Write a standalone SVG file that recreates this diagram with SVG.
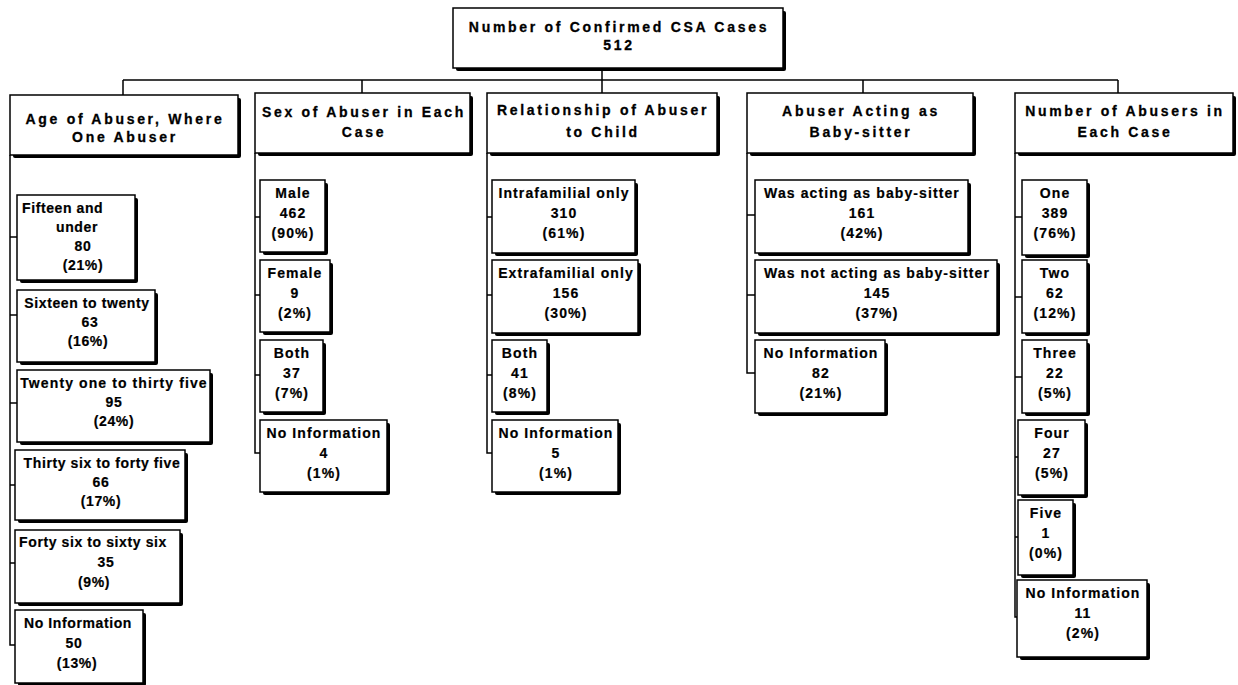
<svg xmlns="http://www.w3.org/2000/svg" width="1238" height="685" viewBox="0 0 1238 685">
<style>
.sh{fill:#000}
.bg{fill:#fff;stroke:#000;stroke-width:1.5}
.h{font-family:"Liberation Sans",Arial,sans-serif;font-weight:bold;font-size:14px;letter-spacing:2.7px;text-anchor:middle;fill:#000;stroke:#000;stroke-width:0.3}
.l{font-family:"Liberation Sans",Arial,sans-serif;font-weight:bold;font-size:14px;letter-spacing:1.1px;text-anchor:middle;fill:#000;stroke:#000;stroke-width:0.2}
.a{letter-spacing:0.6px}
.c{fill:none;stroke:#000;stroke-width:1.5}
</style>
<rect width="1238" height="685" fill="#fff"/>
<g id="connectors" class="c">
<path d="M602 71V80M123 80H1118M123 80V95M362 80V93M602 80V93M863 80V93M1118 80V93"/>
<path d="M10 155V645H17M10 237H17M10 315H17M10 403H17M10 485H15M10 563H15"/>
<path d="M255 153V453H260M255 217H260M255 295H260M255 375H260"/>
<path d="M487 153V453H492M487 217H492M487 295H492M487 375H492"/>
<path d="M747 153V373H755M747 215H755M747 295H755"/>
<path d="M1015 153V617H1017M1015 217H1022M1015 297H1022M1015 377H1022M1015 457H1018M1015 537H1018"/>
</g>
<g id="root"><rect class="sh" x="456" y="11" width="330" height="60" rx="2"/><rect class="bg" x="453" y="8" width="330" height="60"/><text class="h" x="619" y="32">Number of Confirmed CSA Cases</text><text class="h" x="619" y="50">512</text></g>
<g id="h1"><rect class="sh" x="13" y="98" width="228" height="60" rx="2"/><rect class="bg" x="10" y="95" width="228" height="60"/><text class="h" x="125" y="124">Age of Abuser, Where</text><text class="h" x="125" y="142">One Abuser</text></g>
<g id="h2"><rect class="sh" x="258" y="96" width="215" height="60" rx="2"/><rect class="bg" x="255" y="93" width="215" height="60"/><text class="h" x="364" y="117">Sex of Abuser in Each</text><text class="h" x="364" y="137">Case</text></g>
<g id="h3"><rect class="sh" x="490" y="96" width="230" height="60" rx="2"/><rect class="bg" x="487" y="93" width="230" height="60"/><text class="h" x="603" y="115">Relationship of Abuser</text><text class="h" x="603" y="137">to Child</text></g>
<g id="h4"><rect class="sh" x="750" y="96" width="226" height="60" rx="2"/><rect class="bg" x="747" y="93" width="226" height="60"/><text class="h" x="861" y="116">Abuser Acting as</text><text class="h" x="861" y="137">Baby-sitter</text></g>
<g id="h5"><rect class="sh" x="1018" y="96" width="218" height="60" rx="2"/><rect class="bg" x="1015" y="93" width="218" height="60"/><text class="h" x="1125" y="116">Number of Abusers in</text><text class="h" x="1125" y="137">Each Case</text></g>

<g id="a1"><rect class="sh" x="20" y="198" width="118" height="85" rx="2"/><rect class="bg" x="17" y="195" width="118" height="85"/><text class="l a" x="22" y="213" style="text-anchor:start">Fifteen and</text><text class="l a" x="77" y="232">under</text><text class="l a" x="83" y="251">80</text><text class="l a" x="83" y="270">(21%)</text></g>
<g id="a2"><rect class="sh" x="20" y="293" width="138" height="72" rx="2"/><rect class="bg" x="17" y="290" width="138" height="72"/><text class="l a" x="87" y="308">Sixteen to twenty</text><text class="l a" x="90" y="327">63</text><text class="l a" x="88" y="346">(16%)</text></g>
<g id="a3"><rect class="sh" x="20" y="373" width="193" height="72" rx="2"/><rect class="bg" x="17" y="370" width="193" height="72"/><text class="l" x="114" y="388">Twenty one to thirty five</text><text class="l a" x="114" y="407">95</text><text class="l a" x="114" y="426">(24%)</text></g>
<g id="a4"><rect class="sh" x="18" y="453" width="170" height="70" rx="2"/><rect class="bg" x="15" y="450" width="170" height="70"/><text class="l a" x="102" y="468">Thirty six to forty five</text><text class="l a" x="101" y="487">66</text><text class="l a" x="101" y="506">(17%)</text></g>
<g id="a5"><rect class="sh" x="18" y="533" width="165" height="73" rx="2"/><rect class="bg" x="15" y="530" width="165" height="73"/><text class="l a" x="93" y="547">Forty six to sixty six</text><text class="l a" x="106" y="567">35</text><text class="l a" x="94" y="587">(9%)</text></g>
<g id="a6"><rect class="sh" x="18" y="613" width="128" height="73" rx="2"/><rect class="bg" x="15" y="610" width="128" height="73"/><text class="l a" x="78" y="628">No Information</text><text class="l a" x="74" y="648">50</text><text class="l a" x="77" y="668">(13%)</text></g>

<g id="s1"><rect class="sh" x="263" y="183" width="65" height="72" rx="2"/><rect class="bg" x="260" y="180" width="65" height="72"/><text class="l" x="293" y="198">Male</text><text class="l" x="293" y="218">462</text><text class="l" x="293" y="238">(90%)</text></g>
<g id="s2"><rect class="sh" x="263" y="263" width="70" height="72" rx="2"/><rect class="bg" x="260" y="260" width="70" height="72"/><text class="l" x="295" y="278">Female</text><text class="l" x="295" y="298">9</text><text class="l" x="295" y="318">(2%)</text></g>
<g id="s3"><rect class="sh" x="263" y="343" width="63" height="72" rx="2"/><rect class="bg" x="260" y="340" width="63" height="72"/><text class="l" x="292" y="358">Both</text><text class="l" x="292" y="378">37</text><text class="l" x="292" y="398">(7%)</text></g>
<g id="s4"><rect class="sh" x="263" y="423" width="127" height="72" rx="2"/><rect class="bg" x="260" y="420" width="127" height="72"/><text class="l" x="324" y="438">No Information</text><text class="l" x="324" y="458">4</text><text class="l" x="324" y="478">(1%)</text></g>

<g id="r1"><rect class="sh" x="495" y="183" width="143" height="73" rx="2"/><rect class="bg" x="492" y="180" width="143" height="73"/><text class="l" x="564" y="198">Intrafamilial only</text><text class="l" x="564" y="218">310</text><text class="l" x="564" y="238">(61%)</text></g>
<g id="r2"><rect class="sh" x="495" y="263" width="146" height="73" rx="2"/><rect class="bg" x="492" y="260" width="146" height="73"/><text class="l" x="566" y="278">Extrafamilial only</text><text class="l" x="566" y="298">156</text><text class="l" x="566" y="318">(30%)</text></g>
<g id="r3"><rect class="sh" x="495" y="343" width="55" height="72" rx="2"/><rect class="bg" x="492" y="340" width="55" height="72"/><text class="l" x="520" y="358">Both</text><text class="l" x="520" y="378">41</text><text class="l" x="520" y="398">(8%)</text></g>
<g id="r4"><rect class="sh" x="495" y="423" width="126" height="72" rx="2"/><rect class="bg" x="492" y="420" width="126" height="72"/><text class="l" x="556" y="438">No Information</text><text class="l" x="556" y="458">5</text><text class="l" x="556" y="478">(1%)</text></g>

<g id="b1"><rect class="sh" x="758" y="183" width="213" height="73" rx="2"/><rect class="bg" x="755" y="180" width="213" height="73"/><text class="l" x="862" y="198">Was acting as baby-sitter</text><text class="l" x="862" y="218">161</text><text class="l" x="862" y="238">(42%)</text></g>
<g id="b2"><rect class="sh" x="758" y="263" width="242" height="73" rx="2"/><rect class="bg" x="755" y="260" width="242" height="73"/><text class="l" x="877" y="278">Was not acting as baby-sitter</text><text class="l" x="877" y="298">145</text><text class="l" x="877" y="318">(37%)</text></g>
<g id="b3"><rect class="sh" x="758" y="343" width="130" height="73" rx="2"/><rect class="bg" x="755" y="340" width="130" height="73"/><text class="l" x="821" y="358">No Information</text><text class="l" x="821" y="378">82</text><text class="l" x="821" y="398">(21%)</text></g>

<g id="n1"><rect class="sh" x="1025" y="183" width="65" height="75" rx="2"/><rect class="bg" x="1022" y="180" width="65" height="75"/><text class="l" x="1055" y="198">One</text><text class="l" x="1055" y="218">389</text><text class="l" x="1055" y="238">(76%)</text></g>
<g id="n2"><rect class="sh" x="1025" y="263" width="65" height="73" rx="2"/><rect class="bg" x="1022" y="260" width="65" height="73"/><text class="l" x="1055" y="278">Two</text><text class="l" x="1055" y="298">62</text><text class="l" x="1055" y="318">(12%)</text></g>
<g id="n3"><rect class="sh" x="1025" y="343" width="65" height="73" rx="2"/><rect class="bg" x="1022" y="340" width="65" height="73"/><text class="l" x="1055" y="358">Three</text><text class="l" x="1055" y="378">22</text><text class="l" x="1055" y="398">(5%)</text></g>
<g id="n4"><rect class="sh" x="1021" y="423" width="67" height="75" rx="2"/><rect class="bg" x="1018" y="420" width="67" height="75"/><text class="l" x="1052" y="438">Four</text><text class="l" x="1052" y="458">27</text><text class="l" x="1052" y="478">(5%)</text></g>
<g id="n5"><rect class="sh" x="1021" y="503" width="55" height="75" rx="2"/><rect class="bg" x="1018" y="500" width="55" height="75"/><text class="l" x="1046" y="518">Five</text><text class="l" x="1046" y="538">1</text><text class="l" x="1046" y="558">(0%)</text></g>
<g id="n6"><rect class="sh" x="1020" y="583" width="130" height="77" rx="2"/><rect class="bg" x="1017" y="580" width="130" height="77"/><text class="l" x="1083" y="598">No Information</text><text class="l" x="1083" y="618">11</text><text class="l" x="1083" y="638">(2%)</text></g>
</svg>
